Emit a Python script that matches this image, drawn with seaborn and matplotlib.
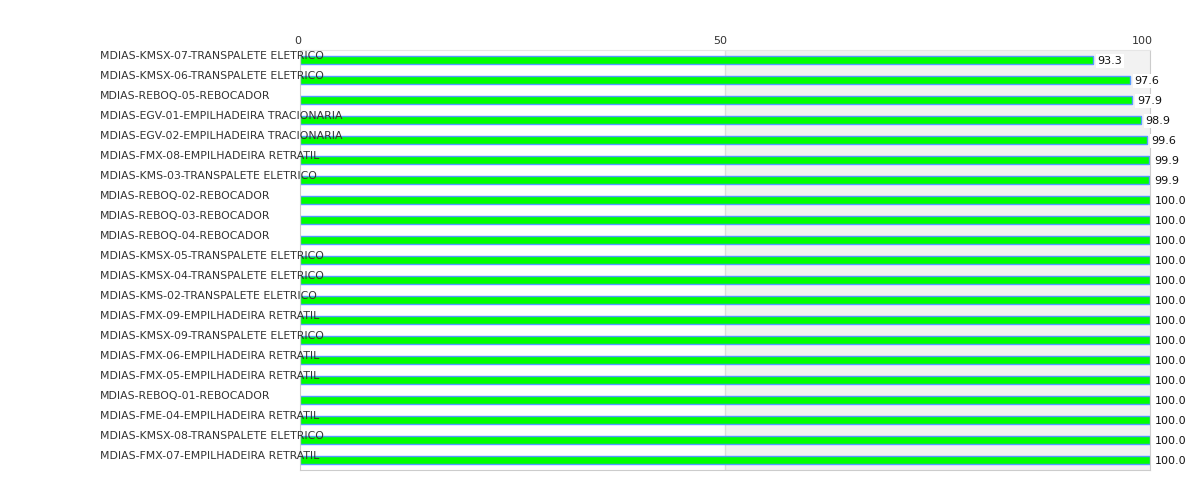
import numpy as np
import pandas as pd
import seaborn as sns
import matplotlib.pyplot as plt
import matplotlib.transforms as mtransforms

equipamentos = [
    "MDIAS-KMSX-07-TRANSPALETE ELETRICO",
    "MDIAS-KMSX-06-TRANSPALETE ELETRICO",
    "MDIAS-REBOQ-05-REBOCADOR",
    "MDIAS-EGV-01-EMPILHADEIRA TRACIONARIA",
    "MDIAS-EGV-02-EMPILHADEIRA TRACIONARIA",
    "MDIAS-FMX-08-EMPILHADEIRA RETRATIL",
    "MDIAS-KMS-03-TRANSPALETE ELETRICO",
    "MDIAS-REBOQ-02-REBOCADOR",
    "MDIAS-REBOQ-03-REBOCADOR",
    "MDIAS-REBOQ-04-REBOCADOR",
    "MDIAS-KMSX-05-TRANSPALETE ELETRICO",
    "MDIAS-KMSX-04-TRANSPALETE ELETRICO",
    "MDIAS-KMS-02-TRANSPALETE ELETRICO",
    "MDIAS-FMX-09-EMPILHADEIRA RETRATIL",
    "MDIAS-KMSX-09-TRANSPALETE ELETRICO",
    "MDIAS-FMX-06-EMPILHADEIRA RETRATIL",
    "MDIAS-FMX-05-EMPILHADEIRA RETRATIL",
    "MDIAS-REBOQ-01-REBOCADOR",
    "MDIAS-FME-04-EMPILHADEIRA RETRATIL",
    "MDIAS-KMSX-08-TRANSPALETE ELETRICO",
    "MDIAS-FMX-07-EMPILHADEIRA RETRATIL",
]
disponibilidade = [93.3, 97.6, 97.9, 98.9, 99.6, 99.9, 99.9, 100.0, 100.0, 100.0,
                   100.0, 100.0, 100.0, 100.0, 100.0, 100.0, 100.0, 100.0, 100.0,
                   100.0, 100.0]
x_ticks = [0, 50, 100]

df = pd.DataFrame({"Equipamento": equipamentos, "Disponibilidade": disponibilidade})
n = len(df)

fig = plt.figure(figsize=(12, 5), dpi=100)
ax = fig.add_axes([0.25, 0.06, 0.7083, 0.84])

# fundo cinza na metade direita + linha de grade no 50
ax.axvspan(50, 100, color="#f2f2f2", zorder=0, lw=0)
ax.axvline(50, color="#dddddd", lw=1, zorder=0.5)

sns.barplot(data=df, x="Disponibilidade", y="Equipamento", orient="h",
            color="#00ff00", saturation=1, edgecolor="#5599ff", linewidth=1,
            width=0.4, ax=ax, zorder=2)

ax.set_xlim(0, 100)
ax.set_ylim(n - 0.5, -0.5)
ax.set_xlabel("")
ax.set_ylabel("")
ax.set_yticks([])
ax.xaxis.tick_top()
ax.set_xticks(x_ticks)
ax.set_xticklabels([str(t) for t in x_ticks])
ax.tick_params(axis="x", length=0, pad=3, labelsize=8, labelcolor="#333333")
# rotulos do eixo um pouco deslocados para a esquerda, como no original
for lbl, dx in zip(ax.get_xticklabels(), [-2, -5, -8]):
    lbl.set_transform(lbl.get_transform() +
                      mtransforms.ScaledTranslation(dx / 100, 0, fig.dpi_scale_trans))

for side in ["left", "bottom", "right"]:
    ax.spines[side].set_color("#cccccc")
ax.spines["top"].set_color("#e6e6e6")

# rotulos das categorias, alinhados a esquerda
trans = mtransforms.blended_transform_factory(fig.transFigure, ax.transData)
for i, nome in enumerate(equipamentos):
    ax.text(100 / 1200, i - 0.2, nome, transform=trans, ha="left", va="center",
            fontsize=7.8, color="#333333", zorder=5, clip_on=False)

# rotulos de valor
for i, v in enumerate(disponibilidade):
    ax.text(v + 0.55, i + 0.05, f"{v:.1f}", ha="left", va="center", fontsize=8,
            color="#111111", zorder=4, clip_on=False,
            bbox=dict(boxstyle="square,pad=0.15", fc="white", ec="none"))

fig.savefig("out.png", dpi=100)
